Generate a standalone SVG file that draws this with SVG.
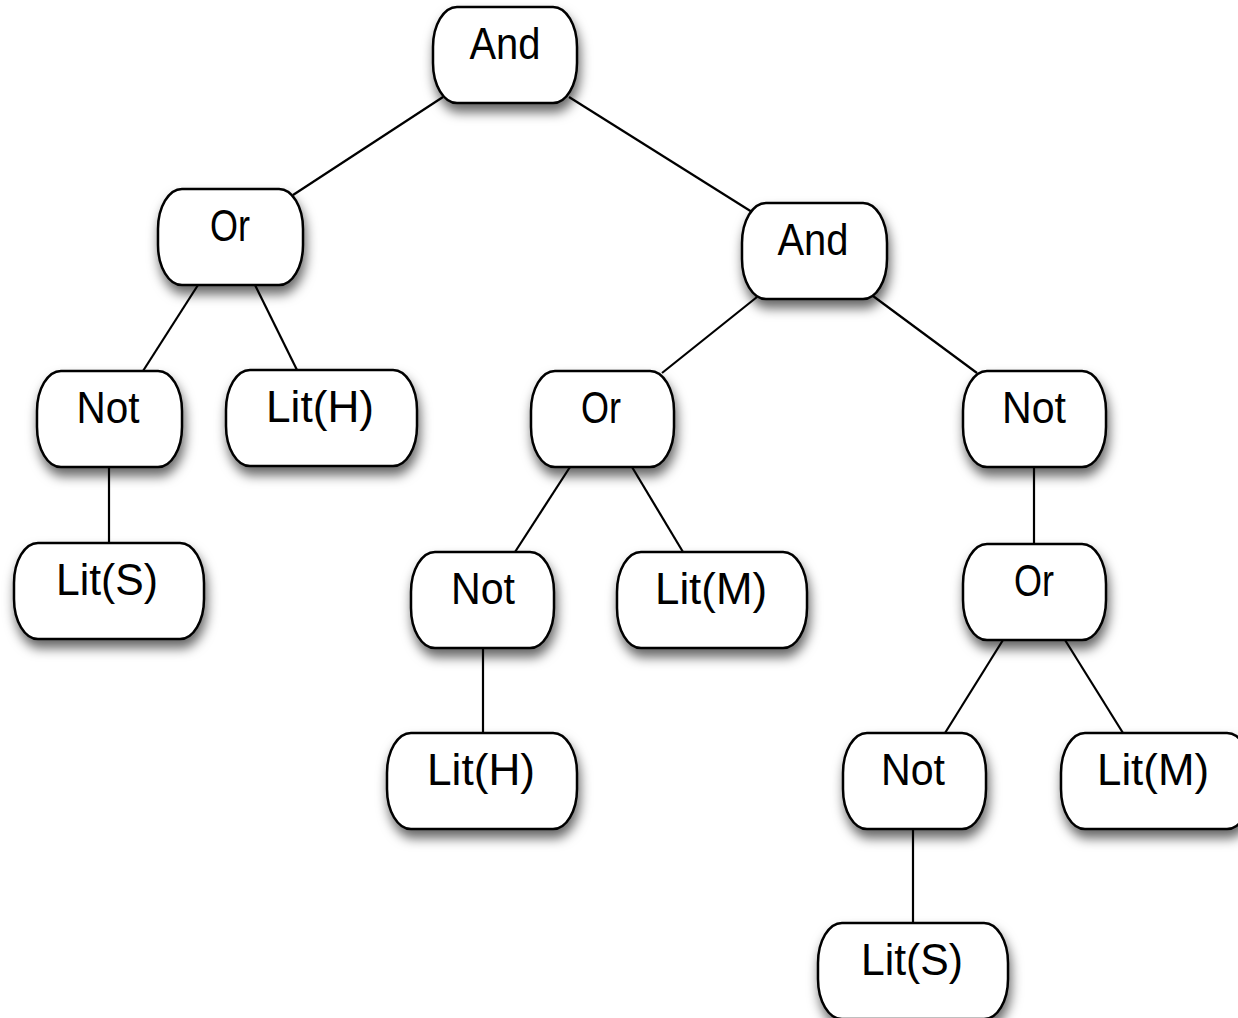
<svg xmlns="http://www.w3.org/2000/svg" width="1238" height="1018" viewBox="0 0 1238 1018">
<style>
.box{fill:#fff;stroke:#000;stroke-width:2.5}
.lbl{font-family:"Liberation Sans",Arial,sans-serif;font-size:45px;text-anchor:middle;fill:#000}
.edge{stroke:#000;stroke-width:2.2;fill:none}
</style>
<defs>
<filter id="sh" x="-20%" y="-20%" width="150%" height="170%">
<feDropShadow dx="2" dy="8" stdDeviation="6" flood-color="#000" flood-opacity="0.6"/>
</filter>
</defs>
<rect width="1238" height="1018" fill="#fff"/>
<g id="connectors" class="edge">
<line x1="443" y1="97" x2="293" y2="195"/>
<line x1="569" y1="97" x2="752" y2="212"/>
<line x1="198" y1="285" x2="143" y2="371"/>
<line x1="255" y1="285" x2="297" y2="370"/>
<line x1="109" y1="467" x2="109" y2="543"/>
<line x1="757" y1="297" x2="662" y2="373"/>
<line x1="873" y1="296" x2="977" y2="373"/>
<line x1="570" y1="467" x2="515" y2="552"/>
<line x1="632" y1="467" x2="683" y2="552"/>
<line x1="483" y1="648" x2="483" y2="733"/>
<line x1="1034" y1="467" x2="1034" y2="544"/>
<line x1="1003" y1="640" x2="945" y2="733"/>
<line x1="1065" y1="640" x2="1123" y2="733"/>
<line x1="913" y1="829" x2="913" y2="923"/>
</g>
<g id="n1"><rect class="box" filter="url(#sh)" x="433" y="7" width="144" height="96" rx="24" ry="40"/><text class="lbl" x="505" y="59" textLength="71" lengthAdjust="spacingAndGlyphs">And</text></g>
<g id="n2"><rect class="box" filter="url(#sh)" x="158" y="189" width="145" height="96" rx="24" ry="40"/><text class="lbl" x="230" y="241" textLength="40" lengthAdjust="spacingAndGlyphs">Or</text></g>
<g id="n3"><rect class="box" filter="url(#sh)" x="742" y="203" width="145" height="96" rx="24" ry="40"/><text class="lbl" x="813" y="255" textLength="71" lengthAdjust="spacingAndGlyphs">And</text></g>
<g id="n4"><rect class="box" filter="url(#sh)" x="37" y="371" width="145" height="96" rx="24" ry="40"/><text class="lbl" x="108" y="423" textLength="63" lengthAdjust="spacingAndGlyphs">Not</text></g>
<g id="n5"><rect class="box" filter="url(#sh)" x="226" y="370" width="191" height="96" rx="24" ry="40"/><text class="lbl" x="320" y="422" textLength="108" lengthAdjust="spacingAndGlyphs">Lit(H)</text></g>
<g id="n6"><rect class="box" filter="url(#sh)" x="14" y="543" width="190" height="96" rx="24" ry="40"/><text class="lbl" x="107" y="595" textLength="102" lengthAdjust="spacingAndGlyphs">Lit(S)</text></g>
<g id="n7"><rect class="box" filter="url(#sh)" x="531" y="371" width="143" height="96" rx="24" ry="40"/><text class="lbl" x="601" y="423" textLength="40" lengthAdjust="spacingAndGlyphs">Or</text></g>
<g id="n8"><rect class="box" filter="url(#sh)" x="963" y="371" width="143" height="96" rx="24" ry="40"/><text class="lbl" x="1034" y="423" textLength="64" lengthAdjust="spacingAndGlyphs">Not</text></g>
<g id="n9"><rect class="box" filter="url(#sh)" x="411" y="552" width="143" height="96" rx="24" ry="40"/><text class="lbl" x="483" y="604" textLength="64" lengthAdjust="spacingAndGlyphs">Not</text></g>
<g id="n10"><rect class="box" filter="url(#sh)" x="617" y="552" width="190" height="96" rx="24" ry="40"/><text class="lbl" x="711" y="604" textLength="112" lengthAdjust="spacingAndGlyphs">Lit(M)</text></g>
<g id="n11"><rect class="box" filter="url(#sh)" x="963" y="544" width="143" height="96" rx="24" ry="40"/><text class="lbl" x="1034" y="596" textLength="40" lengthAdjust="spacingAndGlyphs">Or</text></g>
<g id="n12"><rect class="box" filter="url(#sh)" x="387" y="733" width="190" height="96" rx="24" ry="40"/><text class="lbl" x="481" y="785" textLength="108" lengthAdjust="spacingAndGlyphs">Lit(H)</text></g>
<g id="n13"><rect class="box" filter="url(#sh)" x="843" y="733" width="143" height="96" rx="24" ry="40"/><text class="lbl" x="913" y="785" textLength="64" lengthAdjust="spacingAndGlyphs">Not</text></g>
<g id="n14"><rect class="box" filter="url(#sh)" x="1061" y="733" width="190" height="96" rx="24" ry="40"/><text class="lbl" x="1153" y="785" textLength="112" lengthAdjust="spacingAndGlyphs">Lit(M)</text></g>
<g id="n15"><rect class="box" filter="url(#sh)" x="818" y="923" width="190" height="96" rx="24" ry="40"/><text class="lbl" x="912" y="975" textLength="102" lengthAdjust="spacingAndGlyphs">Lit(S)</text></g>
</svg>
